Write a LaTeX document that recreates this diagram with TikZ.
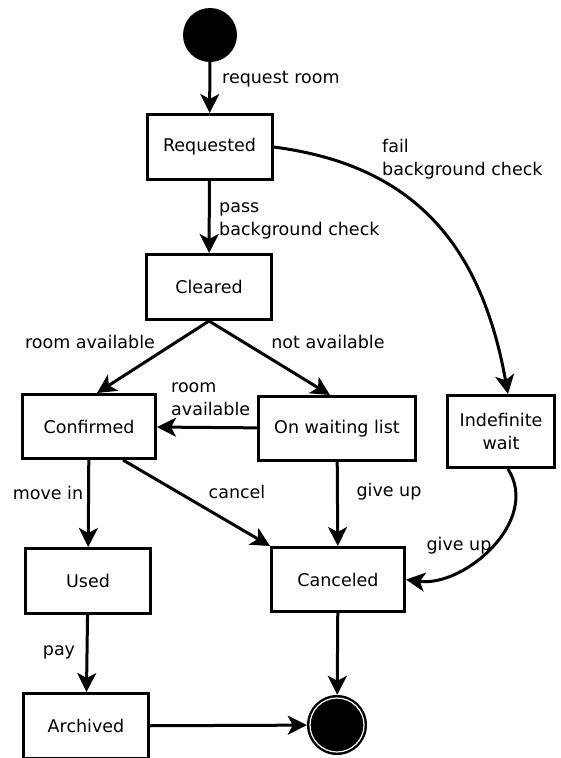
\documentclass[tikz,border=0pt]{standalone}
\usepackage{fontspec}
\setmainfont{DejaVu Sans}
\usetikzlibrary{arrows.meta}

\begin{document}
\begin{tikzpicture}[x=1pt,y=-1pt,font=\fontsize{17.5}{22.5}\selectfont,
state/.style={draw, line width=3pt, minimum height=65pt, minimum width=125pt, inner sep=0pt, align=center},
trans/.style={line width=3pt, -{Stealth[length=19pt,width=19pt,inset=5pt]}},
lbl/.style={inner sep=0pt, align=left},
dot/.style={circle, fill=black, inner sep=0pt}]
\useasboundingbox (0,0) rectangle (561,758);
\node[dot, minimum size=54pt] (start) at (210,35) {};
\node[state] (req) at (209.5,147) {Requested};
\node[state] (clr) at (209,287) {Cleared};
\node[state, minimum width=133pt, minimum height=64pt] (conf) at (89,426.5) {Confirmed};
\node[state, minimum width=157pt, minimum height=64pt] (wait) at (337,428.5) {On waiting list};
\node[state, minimum width=107pt, minimum height=72pt] (indef) at (501,431.5) {Indefinite\\wait};
\node[state] (used) at (88,581) {Used};
\node[state, minimum width=133pt, minimum height=64pt] (canc) at (338,579.5) {Canceled};
\node[state] (arch) at (86,726) {Archived};
\node[dot, minimum size=60pt] (final) at (337,725) {};
\draw[white, line width=1.2pt] (final.center) circle[radius=27];

\draw[trans] (start) -- (req);
\draw[trans] (req) -- (clr);
\draw[trans] (req.east) .. controls +(140,18) and +(-27,-150) .. ([xshift=7pt]indef.north);
\draw[trans] (clr.south) -- ([xshift=8pt]conf.north);
\draw[trans] (clr.south) -- ([xshift=-7pt]wait.north);
\draw[trans] (wait) -- (conf);
\draw[trans] (conf) -- (used);
\draw[trans] ([xshift=34pt]conf.south) -- (canc.north west);
\draw[trans] (wait) -- (canc);
\draw[trans] ([xshift=7pt]indef.south) .. controls +(33,52) and +(58,8) .. (canc.east);
\draw[trans] (used) -- (arch);
\draw[trans] (canc) -- (final);
\draw[trans] (arch) -- (final);

\node[lbl, anchor=west] (lRequest) at (222,79) {request room};
\node[lbl, anchor=west] (lPass) at (219,221) {pass\\background check};
\node[lbl, anchor=west] (lFail) at (382,159) {fail\\background check};
\node[lbl] (lRoomAv) at (90,342) {room available};
\node[lbl] (lNotAv) at (328,342) {not available};
\node[lbl, anchor=west] (lRoomBack) at (171,399) {room\\available};
\node[lbl] (lMove) at (48,493) {move in};
\node[lbl] (lCancel) at (237,492) {cancel};
\node[lbl] (lGiveUp) at (389,492) {give up};
\node[lbl] (lGiveUpWait) at (459,546) {give up};
\node[lbl] (lPay) at (59,652) {pay};
\end{tikzpicture}
\end{document}
